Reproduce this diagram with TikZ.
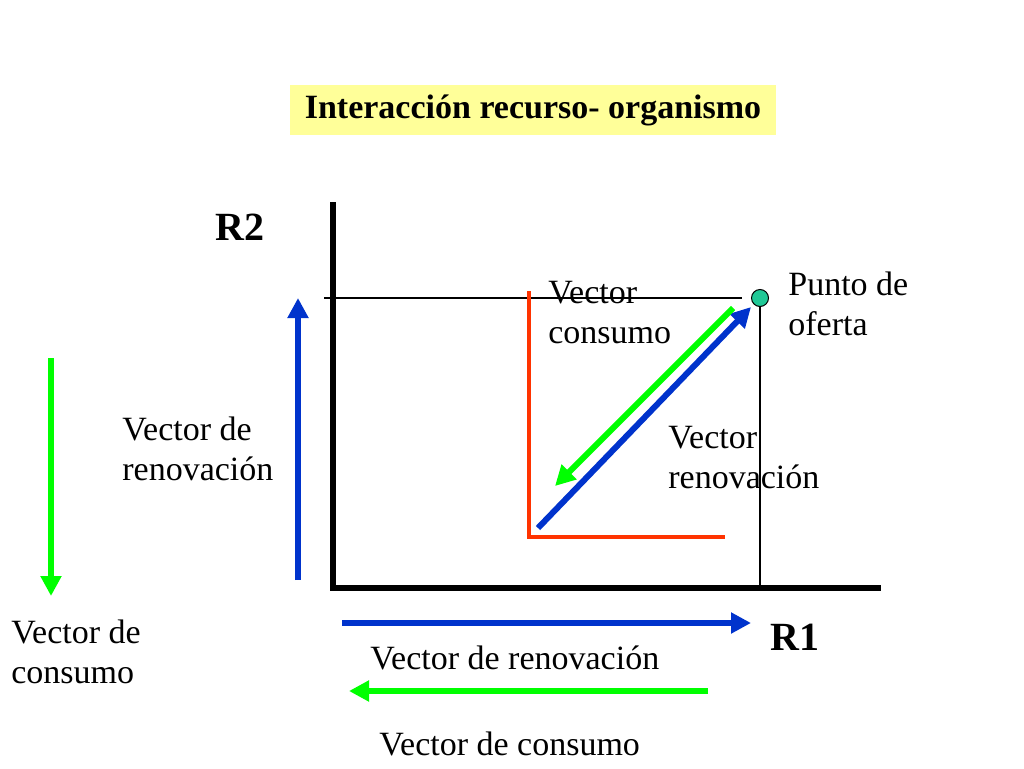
\documentclass[tikz,border=0pt]{standalone}
\usepackage{fontspec}
\setmainfont{Liberation Serif}
\usetikzlibrary{arrows.meta}

\definecolor{vecblue}{RGB}{0,51,204}
\definecolor{vecgreen}{RGB}{0,255,0}
\definecolor{vecred}{RGB}{255,51,0}
\definecolor{titleyellow}{RGB}{255,255,153}
\definecolor{pointgreen}{RGB}{32,200,150}

\tikzset{every picture/.style={line width=0.75pt},
  lbl/.style={anchor=base west,inner sep=0pt,align=left,font=\fontsize{34}{40}\selectfont},
  axislbl/.style={anchor=base west,inner sep=0pt,font=\fontsize{40}{44}\selectfont\bfseries},
  vecarrow/.style={line width=6pt,-{Triangle[length=20pt,width=20pt]}},
  axisline/.style={line width=5.5pt,line cap=rect},
  guide/.style={line width=1.2pt}}

\begin{document}
\begin{tikzpicture}[x=1pt,y=1pt,yscale=-1,xscale=1]
\useasboundingbox (0,0) rectangle (1024,768);

% Title
\node (title) [fill=titleyellow,minimum width=486pt,minimum height=50pt,inner sep=0pt,font=\fontsize{34}{38}\selectfont\bfseries] at (533,110) {Interacción recurso- organismo};

% Axes
\coordinate (ytop) at (333,205);
\coordinate (origin) at (333,588);
\coordinate (xend) at (878,588);
\draw [axisline] (ytop) -- (origin) -- (xend);
\node (rtwo) [axislbl] at (215,240) {R2};
\node (rone) [axislbl] at (770,650) {R1};

% Supply point and guides
\node (punto) [circle,draw,fill=pointgreen,minimum size=17pt,inner sep=0pt,line width=1pt] at (760,298) {};
\coordinate (hstart) at (324,298);
\coordinate (hend) at (742,298);
\coordinate (vfoot) at (760,588);
\draw [guide] (hstart) -- (hend);
\draw [guide] (punto.south) -- (vfoot);
\node (oferta) [lbl] at (788,335) {Punto de\\oferta};

% Red isocline
\coordinate (rtop) at (529,291);
\coordinate (rcorner) at (529,537);
\coordinate (rright) at (725,537);
\draw [vecred,line width=4pt] (rtop) -- (rcorner) -- (rright);

% Diagonal vectors
\coordinate (bstart) at (538,528);
\coordinate (btip) at (751,307);
\draw [vecblue,vecarrow] (bstart) -- (btip);
\coordinate (gstart) at (733,308);
\coordinate (gtip) at (555,486);
\draw [vecgreen,vecarrow] (gstart) -- (gtip);
\node (vcons) [lbl] at (548,343) {Vector\\consumo};
\node (vrenov) [lbl] at (668,488) {Vector\\renovación};

% Vertical vectors
\coordinate (lbstart) at (298,580);
\coordinate (lbtip) at (298,298);
\draw [vecblue,vecarrow] (lbstart) -- (lbtip);
\node (lrenov) [lbl] at (122,480) {Vector de\\renovación};
\coordinate (lgstart) at (51,358);
\coordinate (lgtip) at (51,596);
\draw [vecgreen,vecarrow] (lgstart) -- (lgtip);
\node (lcons) [lbl] at (11,683) {Vector de\\consumo};

% Horizontal vectors
\coordinate (hbstart) at (342,623);
\coordinate (hbtip) at (751,623);
\draw [vecblue,vecarrow] (hbstart) -- (hbtip);
\node (hrenov) [lbl] at (370,669) {Vector de renovación};
\coordinate (hgstart) at (708,691);
\coordinate (hgtip) at (349,691);
\draw [vecgreen,vecarrow] (hgstart) -- (hgtip);
\node (hcons) [lbl] at (379,755) {Vector de consumo};

\end{tikzpicture}
\end{document}
